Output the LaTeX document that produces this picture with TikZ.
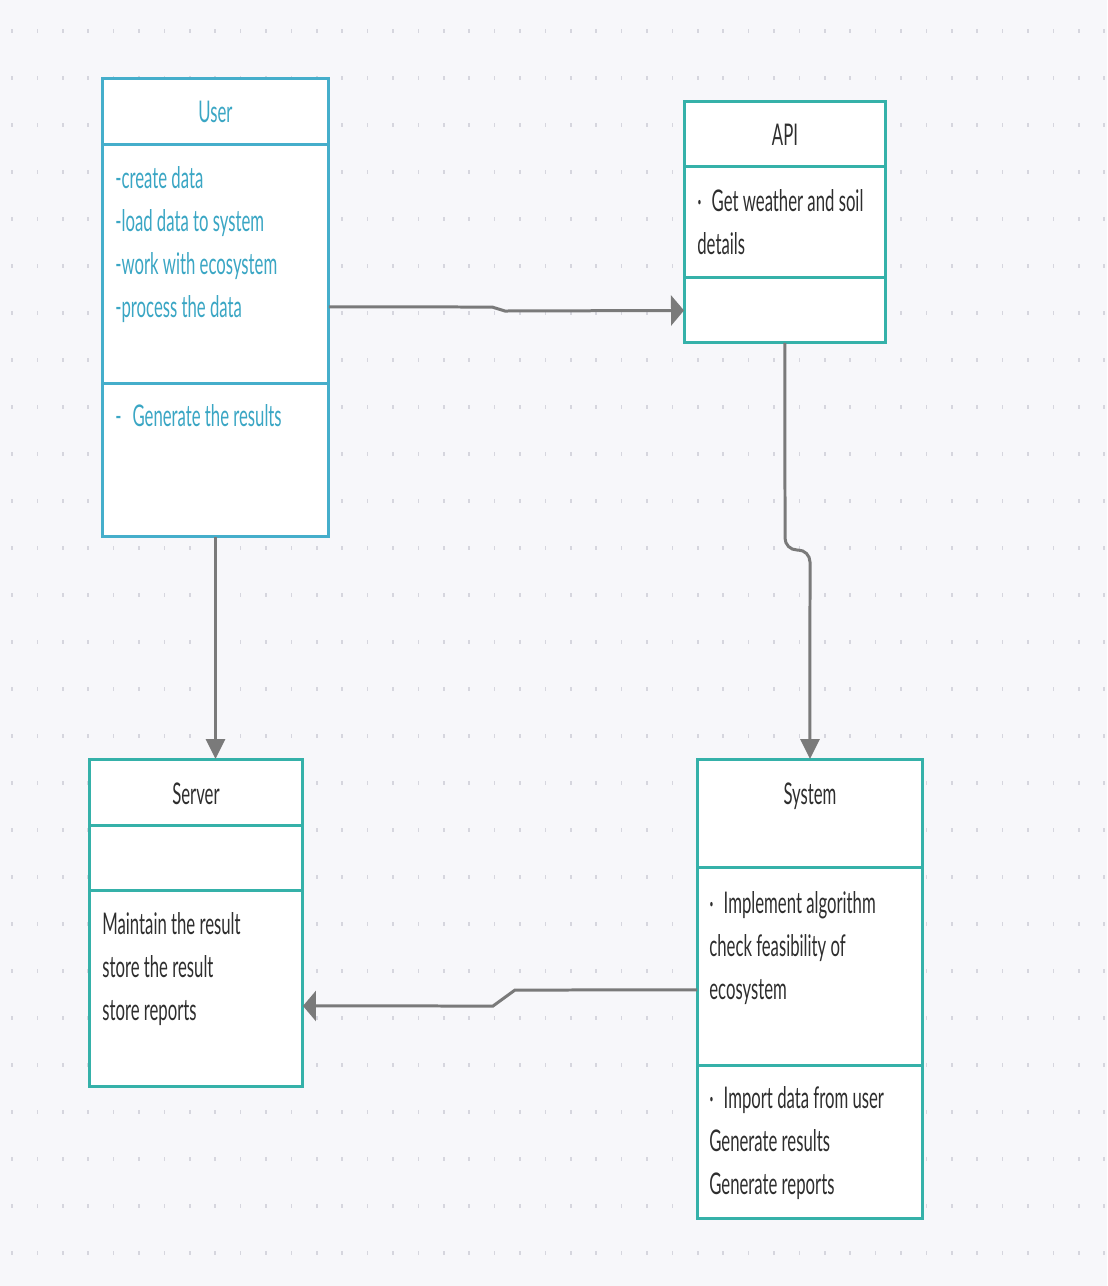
\documentclass[tikz,border=0pt]{standalone}
\usepackage{fontspec}
\newfontfamily\diagfont[FakeStretch=0.56]{Lato}
\usetikzlibrary{positioning,arrows.meta}

\definecolor{sfondo}{HTML}{F7F7FA}
\definecolor{puntini}{HTML}{D6D6DE}
\definecolor{bordoblu}{HTML}{45AECB}
\definecolor{bordoverde}{HTML}{35B1A9}
\definecolor{testoblu}{HTML}{3AA6C4}
\definecolor{testonero}{HTML}{2E2E2E}
\definecolor{freccia}{HTML}{7A7A7A}

\begin{document}
\begin{tikzpicture}[x=0.02cm,y=-0.02cm]

% definizione dei riquadri delle classi
\tikzset{mybox/.style={rectangle,draw=#1,line width=0.06cm,fill=white,inner sep=0pt,outer sep=0pt}}
% definizione del testo
\tikzset{mytext/.style={font=\diagfont\fontsize{17}{20}\selectfont,text=#1,inner sep=0pt}, mytext/.default=testonero}
% definizione delle frecce
\tikzset{myarrowh/.style={draw=freccia,line width=0.06cm,-{Triangle[length=0.26cm,width=0.6cm]}}}
\tikzset{myarrowv/.style={draw=freccia,line width=0.06cm,-{Triangle[length=0.4cm,width=0.38cm]}}}

% sfondo
\fill[sfondo] (0,0) rectangle (1107,1286);
\useasboundingbox (0,0) rectangle (1107,1286);

% griglia di puntini
\foreach \i in {0,...,43}
\foreach \j in {0,...,26}
\fill[puntini] (11.2+25.4*\i,29+47*\j) rectangle ++(1.6,4);

% User
\node[mybox=bordoblu,anchor=north west,minimum width=4.54cm,minimum height=1.34cm] (userHead) at (102,78) {};
\node[mybox=bordoblu,minimum width=4.54cm,minimum height=4.78cm,below=0pt of userHead] (userAttr) {};
\node[mybox=bordoblu,minimum width=4.54cm,minimum height=3.06cm,below=0pt of userAttr] (userOps) {};

% API
\node[mybox=bordoverde,anchor=north west,minimum width=4.04cm,minimum height=1.32cm] (apiHead) at (684,101) {};
\node[mybox=bordoverde,minimum width=4.04cm,minimum height=2.22cm,below=0pt of apiHead] (apiAttr) {};
\node[mybox=bordoverde,minimum width=4.04cm,minimum height=1.30cm,below=0pt of apiAttr] (apiOps) {};

% Server
\node[mybox=bordoverde,anchor=north west,minimum width=4.28cm,minimum height=1.34cm] (srvHead) at (89,759) {};
\node[mybox=bordoverde,minimum width=4.28cm,minimum height=1.30cm,below=0pt of srvHead] (srvAttr) {};
\node[mybox=bordoverde,minimum width=4.28cm,minimum height=3.92cm,below=0pt of srvAttr] (srvOps) {};

% System
\node[mybox=bordoverde,anchor=north west,minimum width=4.52cm,minimum height=2.18cm] (sysHead) at (697,759) {};
\node[mybox=bordoverde,minimum width=4.52cm,minimum height=3.96cm,below=0pt of sysHead] (sysAttr) {};
\node[mybox=bordoverde,minimum width=4.52cm,minimum height=3.06cm,below=0pt of sysAttr] (sysOps) {};

% titoli
\node[mytext=testoblu,anchor=base] (userTitle) at ([yshift=-0.9cm]userHead.north) {User};
\node[mytext,anchor=base] (apiTitle) at ([yshift=-0.9cm]apiHead.north) {API};
\node[mytext,anchor=base] (srvTitle) at ([yshift=-0.9cm]srvHead.north) {Server};
\node[mytext,anchor=base] (sysTitle) at ([yshift=-0.9cm]sysHead.north) {System};

% righe di testo
\foreach \n/\txt in {0/-create data,1/-load data to system,2/-work with ecosystem,3/-process the data}
\node[mytext=testoblu,anchor=base west] (userA\n) at ([xshift=0.26cm,yshift=-0.88cm-0.86cm*\n]userAttr.north west) {\txt};
\node[mytext=testoblu,anchor=base west] (userO0) at ([xshift=0.26cm,yshift=-0.86cm]userOps.north west) {-\hspace{0.22cm}Generate the results};

\foreach \n/\txt in {0/{·\hspace{0.2cm}Get weather and soil},1/details}
\node[mytext,anchor=base west] (apiA\n) at ([xshift=0.26cm,yshift=-0.9cm-0.86cm*\n]apiAttr.north west) {\txt};

\foreach \n/\txt in {0/Maintain the result,1/store the result,2/store reports}
\node[mytext,anchor=base west] (srvO\n) at ([xshift=0.26cm,yshift=-0.88cm-0.86cm*\n]srvOps.north west) {\txt};

\foreach \n/\txt in {0/{·\hspace{0.2cm}Implement algorithm},1/check feasibility of,2/ecosystem}
\node[mytext,anchor=base west] (sysA\n) at ([xshift=0.24cm,yshift=-0.92cm-0.86cm*\n]sysAttr.north west) {\txt};
\foreach \n/\txt in {0/{·\hspace{0.2cm}Import data from user},1/Generate results,2/Generate reports}
\node[mytext,anchor=base west] (sysO\n) at ([xshift=0.24cm,yshift=-0.86cm-0.86cm*\n]sysOps.north west) {\txt};

% frecce
\draw[myarrowh] ([yshift=-0.85cm]userAttr.east) -- (492,307) -- (505,311) -- (apiOps.west);
\draw[myarrowv,rounded corners=0.24cm] (apiOps.south) -- (785,550) -- (810,550) -- (sysHead.north);
\draw[myarrowv] (userOps.south) -- (userOps.south |- srvHead.north);
\draw[myarrowh] ([yshift=-0.46cm]sysAttr.west) -- (515,990) -- (493,1006) -- ([yshift=-0.34cm]srvOps.east);

\end{tikzpicture}
\end{document}
